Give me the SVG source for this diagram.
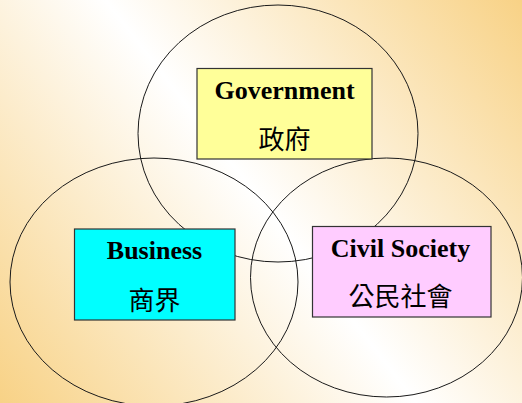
<svg xmlns="http://www.w3.org/2000/svg" width="522" height="403" viewBox="0 0 522 403">
<defs>
<linearGradient id="bg" x1="0" y1="403" x2="522" y2="0" gradientUnits="userSpaceOnUse">
<stop offset="0" stop-color="#F8D286"/>
<stop offset="0.5" stop-color="#FFFFFF"/>
<stop offset="1" stop-color="#F8D286"/>
</linearGradient>
<style>
.ring{fill:none;stroke:#1a1a1a;stroke-width:1}
.box{stroke:#333333;stroke-width:1.2}
.en{font-family:"Liberation Serif","Times New Roman",serif;font-weight:bold;font-size:26px;fill:#000;text-anchor:middle}
.zh{font-family:"Noto Sans CJK TC","Noto Sans CJK SC",sans-serif;font-size:26px;fill:#000;text-anchor:middle}
</style>
</defs>
<rect x="0" y="0" width="522" height="403" fill="url(#bg)"/>
<g id="connectors">
<ellipse class="ring" cx="278" cy="133.5" rx="140" ry="128.5"/>
<ellipse class="ring" cx="154" cy="282" rx="144" ry="124"/>
<ellipse class="ring" cx="386.5" cy="277.5" rx="136" ry="119.5"/>
</g>
<g id="government">
<rect class="box" x="197" y="68.5" width="175" height="90.5" fill="#FFFF99"/>
<text class="en" x="284.5" y="99">Government</text>
<text class="zh" x="284.5" y="149">政府</text>
</g>
<g id="business">
<rect class="box" x="74.5" y="229" width="160.5" height="91" fill="#00FFFF"/>
<text class="en" x="154.5" y="259">Business</text>
<text class="zh" x="154.5" y="310">商界</text>
</g>
<g id="civil-society">
<rect class="box" x="312.5" y="226.5" width="178.5" height="90.5" fill="#FFCCFF"/>
<text class="en" x="400.5" y="257">Civil Society</text>
<text class="zh" x="400.5" y="306">公民社會</text>
</g>
</svg>
